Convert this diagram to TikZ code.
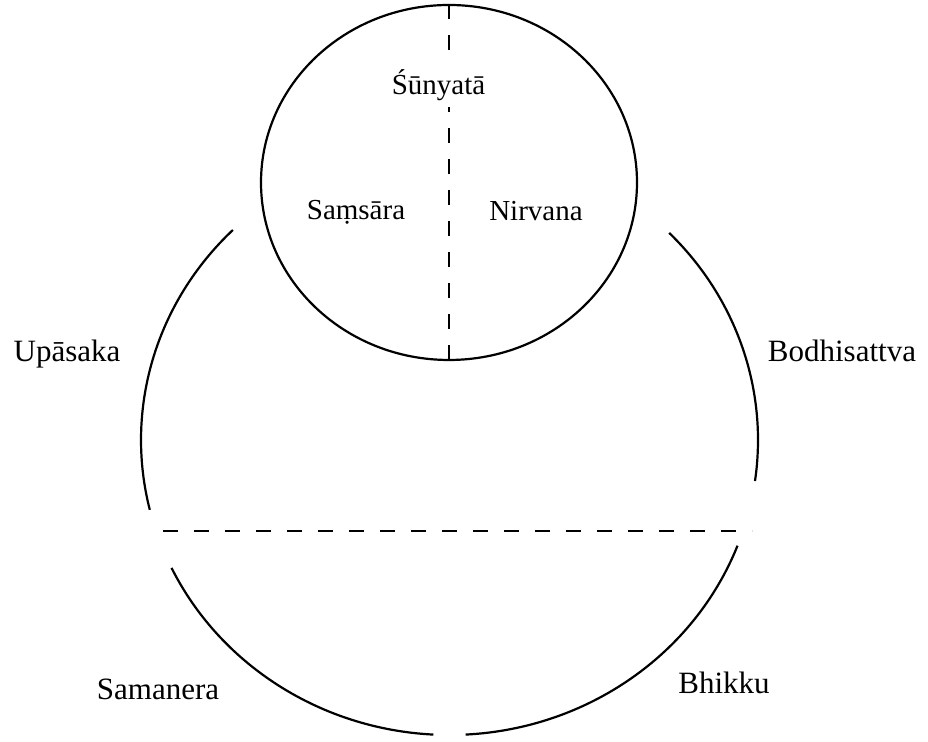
\documentclass[tikz,border=0pt]{standalone}
\usepackage{fontspec}
\setmainfont{Liberation Serif}
\newfontfamily\zeit{Liberation Serif}
\usetikzlibrary{shapes}

\begin{document}
\begin{tikzpicture}[x=0.5pt,y=0.5pt,
ring/.style={
  line width=1.1pt
},
trenner/.style={
  line width=1pt,
  dash pattern=on 7.5pt off 8pt
},
wort/.style={
  anchor=base,
  inner sep=1pt,
  font=\zeit\fontsize{15.5}{18}\selectfont
},
innen/.style={
  wort,
  font=\zeit\fontsize{14.5}{17}\selectfont
}]
\useasboundingbox (0,0) rectangle (928,742);

% kleiner Kreis oben
\node[ring, draw, ellipse, inner sep=0pt, minimum width=188pt, minimum height=177.5pt] (kreis) at (449,559.5) {};
\draw[trenner] (kreis.north) -- (kreis.south);
\node[innen, fill=white, inner sep=3pt] (sunyata) at (438.5,647) {Śūnyatā};
\node[innen] (samsara) at (356,522) {Saṃsāra};
\node[innen] (nirvana) at (536,521) {Nirvana};

% grosser Kreis, in Boegen
\coordinate (mitte) at (449.5,302);
\foreach \a/\b in {134.6/193.7, 205.7/267, 273/339, 352/404.6}
  \draw[ring] (mitte) ++(\a:308.5 and 295) arc[start angle=\a, end angle=\b, x radius=308.5, y radius=295];

\coordinate (links) at (163,211);
\coordinate (rechts) at (752,211);
\draw[trenner] (links) -- (rechts);

\node[wort] (upasaka) at (67,380) {Upāsaka};
\node[wort] (bodhi) at (842,380) {Bodhisattva};
\node[wort] (samanera) at (158,42) {Samanera};
\node[wort] (bhikku) at (724,48) {Bhikku};

\end{tikzpicture}
\end{document}
